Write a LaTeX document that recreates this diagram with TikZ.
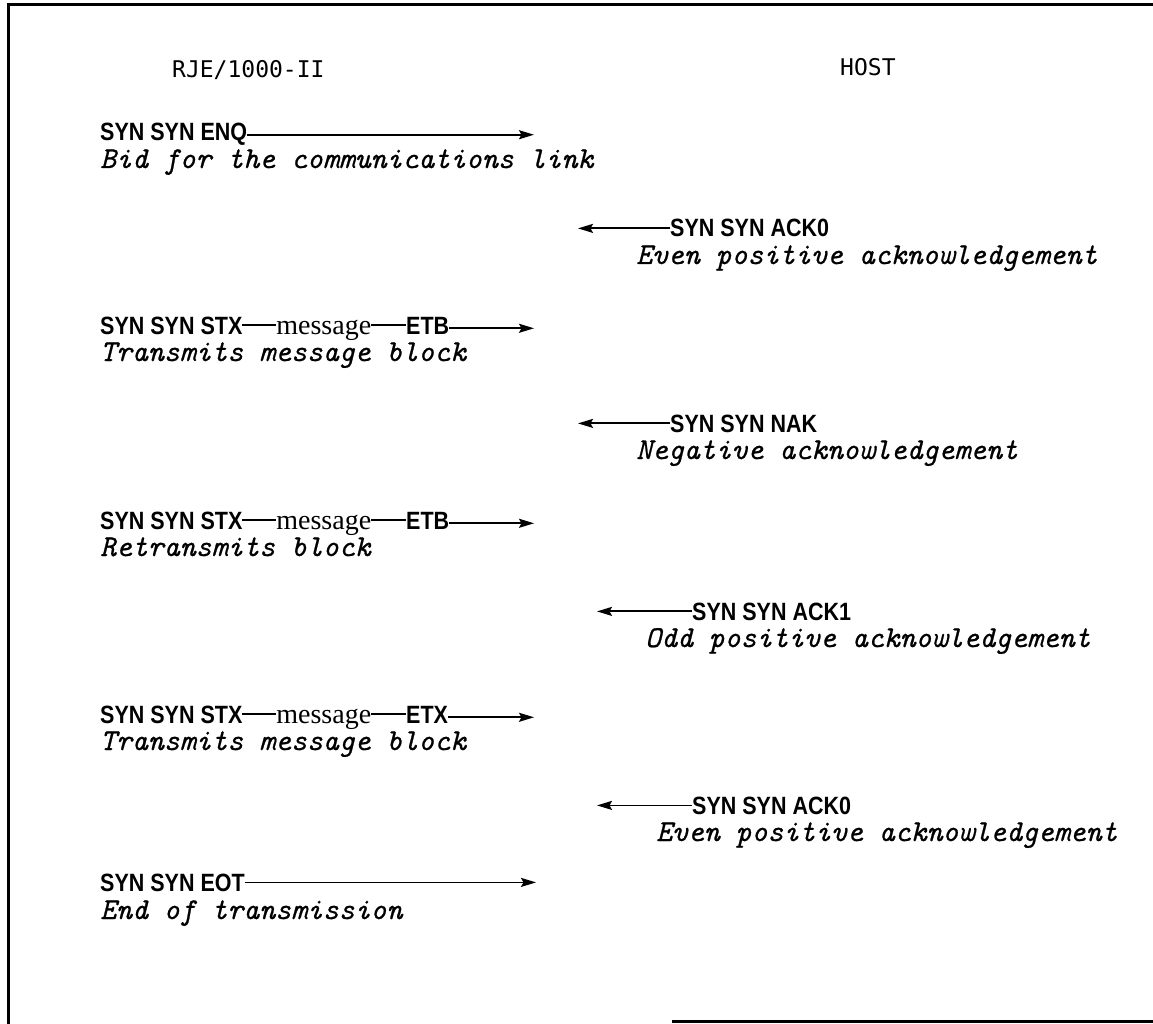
\documentclass[tikz,border=0pt]{standalone}
\usepackage{fontspec}
\usepackage{graphicx}
\usetikzlibrary{arrows.meta}
\newfontfamily\synfont{Liberation Sans}
\newfontfamily\msgfont{Liberation Serif}
\newfontfamily\hdrfont{DejaVu Sans Mono}
\newfontfamily\notefont[ItalicFeatures={FakeBold=0.7}]{Latin Modern Mono}
\newcommand{\syn}[1]{\scalebox{0.86}[1]{\synfont\bfseries\fontsize{25}{25}\selectfont #1}}
\newcommand{\msgw}[1]{{\msgfont\fontsize{28}{28}\selectfont #1}}
\newcommand{\mdash}[1]{\rule[8.5pt]{#1}{1.4pt}}
\begin{document}
\begin{tikzpicture}[x=1pt,y=-1pt,
  lbl/.style={inner sep=0pt, anchor=base west},
  hdr/.style={lbl, font=\hdrfont\fontsize{23}{23}\selectfont},
  note/.style={lbl, font=\notefont\itshape\fontsize{30.3}{30.3}\selectfont},
  msg/.style={line width=1.8pt, -{Stealth[length=15pt,width=9pt,inset=2.5pt]}},
  frame/.style={line width=3pt}]
\useasboundingbox (0,0) rectangle (1153,1024);
% frame
\draw[frame] (8,1024) -- (8,5) -- (1153,5);
\draw[frame] (672,1021) -- (1153,1021);
% headers
\node[hdr] (rje) at (172,78) {RJE/1000-II};
\node[hdr] (host) at (840,76) {HOST};
% row 1
\node[lbl] (l1) at (100,141) {\syn{SYN SYN ENQ}};
\coordinate (t1) at (534,132);
\draw[msg] (l1.east) -- (l1.east -| t1);
\node[note] (n1) at (100,168) {Bid for the communications link};
% row 2
\node[lbl] (l2) at (670,237) {\syn{SYN SYN ACK0}};
\coordinate (t2) at (578,228);
\draw[msg] (l2.west) -- (l2.west -| t2);
\node[note] (n2) at (636,264) {Even positive acknowledgement};
% row 3
\node[lbl] (l3) at (100,334) {\syn{SYN SYN STX}\mdash{34pt}\msgw{message}\mdash{35pt}\syn{ETB}};
\coordinate (t3) at (534,325);
\draw[msg] (l3.east) -- (l3.east -| t3);
\node[note] (n3) at (100,361) {Transmits message block};
% row 4
\node[lbl] (l4) at (670,432) {\syn{SYN SYN NAK}};
\coordinate (t4) at (578,423);
\draw[msg] (l4.west) -- (l4.west -| t4);
\node[note] (n4) at (636,459) {Negative acknowledgement};
% row 5
\node[lbl] (l5) at (100,529) {\syn{SYN SYN STX}\mdash{34pt}\msgw{message}\mdash{35pt}\syn{ETB}};
\coordinate (t5) at (534,520);
\draw[msg] (l5.east) -- (l5.east -| t5);
\node[note] (n5) at (100,556) {Retransmits block};
% row 6
\node[lbl] (l6) at (692,620) {\syn{SYN SYN ACK1}};
\coordinate (t6) at (597,611);
\draw[msg] (l6.west) -- (l6.west -| t6);
\node[note] (n6) at (645,647) {Odd positive acknowledgement};
% row 7
\node[lbl] (l7) at (100,723) {\syn{SYN SYN STX}\mdash{34pt}\msgw{message}\mdash{35pt}\syn{ETX}};
\coordinate (t7) at (534,714);
\draw[msg] (l7.east) -- (l7.east -| t7);
\node[note] (n7) at (100,750) {Transmits message block};
% row 8
\node[lbl] (l8) at (692,814) {\syn{SYN SYN ACK0}};
\coordinate (t8) at (597,805);
\draw[msg] (l8.west) -- (l8.west -| t8);
\node[note] (n8) at (656,841) {Even positive acknowledgement};
% row 9
\node[lbl] (l9) at (100,891) {\syn{SYN SYN EOT}};
\coordinate (t9) at (536,882);
\draw[msg] (l9.east) -- (l9.east -| t9);
\node[note] (n9) at (100,919) {End of transmission};
\end{tikzpicture}
\end{document}
